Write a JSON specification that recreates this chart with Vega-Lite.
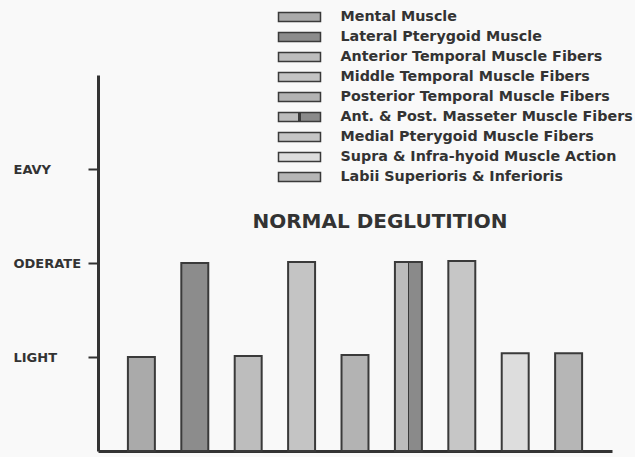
{
  "$schema": "https://vega.github.io/schema/vega-lite/v6.json",
  "autosize": "none",
  "width": 514,
  "height": 376,
  "padding": {"left": 98, "top": 75, "right": 23, "bottom": 6},
  "background": "#f9f9f9",
  "view": {"stroke": null},
  "title": {
    "text": "NORMAL DEGLUTITION",
    "orient": "top",
    "frame": "group",
    "anchor": "middle",
    "offset": -226,
    "dx": 25,
    "font": "DejaVu Sans",
    "fontSize": 20,
    "fontWeight": "bold",
    "color": "#333333"
  },
  "data": {
    "values": [
      {"muscle": "Mental Muscle", "level": 1.0},
      {"muscle": "Lateral Pterygoid Muscle", "level": 2.0},
      {"muscle": "Anterior Temporal Muscle Fibers", "level": 1.01},
      {"muscle": "Middle  Temporal Muscle Fibers", "level": 2.01},
      {"muscle": "Posterior Temporal Muscle Fibers", "level": 1.02},
      {"muscle": "Ant. & Post. Masseter Muscle Fibers", "level": 2.01},
      {"muscle": "Medial Pterygoid Muscle Fibers", "level": 2.02},
      {"muscle": "Supra & Infra-hyoid Muscle Action", "level": 1.04},
      {"muscle": "Labii Superioris & Inferioris", "level": 1.04}
    ]
  },
  "mark": {"type": "bar", "stroke": "#3a3a3a", "strokeWidth": 2, "opacity": 1},
  "encoding": {
    "x": {
      "field": "muscle",
      "type": "nominal",
      "sort": null,
      "scale": {"paddingInner": 0.495, "paddingOuter": 0.56},
      "axis": {
        "title": null,
        "labels": false,
        "ticks": false,
        "domainColor": "#333333",
        "domainWidth": 3
      }
    },
    "y": {
      "field": "level",
      "type": "quantitative",
      "scale": {"domain": [0, 4], "nice": false},
      "axis": {
        "title": null,
        "values": [1, 2, 3],
        "grid": false,
        "labelExpr": "datum.value == 3 ? 'EAVY' : datum.value == 2 ? 'ODERATE' : 'LIGHT'",
        "labelAlign": "left",
        "labelPadding": 75,
        "labelFont": "DejaVu Sans",
        "labelFontSize": 13,
        "labelFontWeight": "bold",
        "labelColor": "#333333",
        "tickSize": 10,
        "tickWidth": 2,
        "tickColor": "#333333",
        "domainColor": "#333333",
        "domainWidth": 3
      }
    },
    "fill": {
      "field": "muscle",
      "type": "nominal",
      "sort": null,
      "scale": {
        "range": [
          "#aaaaaa", "#8c8c8c", "#bdbdbd", "#c4c4c4", "#b3b3b3",
          {"expr": "{gradient: 'linear', x1: 0, y1: 0, x2: 1, y2: 0, stops: [{offset: 0, color: '#bcbcbc'}, {offset: 0.47, color: '#bcbcbc'}, {offset: 0.47, color: '#3a3a3a'}, {offset: 0.53, color: '#3a3a3a'}, {offset: 0.53, color: '#8a8a8a'}, {offset: 1, color: '#8a8a8a'}]}"},
          "#c6c6c6", "#dddddd", "#b6b6b6"
        ]
      },
      "legend": {
        "title": null,
        "orient": "none",
        "legendX": 190.5,
        "legendY": -69,
        "padding": 0,
        "symbolType": "M-2.1,-0.45H2.1V0.45H-2.1Z",
        "symbolSize": 400,
        "symbolOpacity": 1,
        "rowPadding": 1,
        "labelOffset": 30,
        "labelFont": "DejaVu Sans",
        "labelFontSize": 14.3,
        "labelFontWeight": "bold",
        "labelColor": "#333333",
        "labelLimit": 400,
        "encode": {
          "symbols": {
            "stroke": {"value": "#444444"},
            "strokeWidth": {"value": 1.5}
          }
        }
      }
    }
  }
}
